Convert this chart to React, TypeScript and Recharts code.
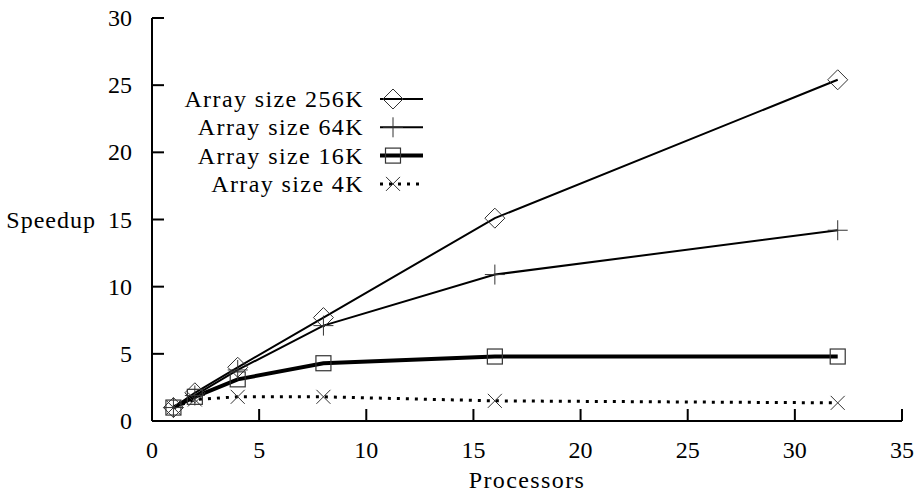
import React from "react";
import { LineChart, Line, XAxis, YAxis, Legend, Label } from "recharts";

const processors = [1, 2, 4, 8, 16, 32];
const speedup256K = [1.0, 2.1, 4.0, 7.7, 15.1, 25.4];
const speedup64K = [1.0, 1.9, 3.8, 7.1, 10.9, 14.2];
const speedup16K = [1.0, 1.8, 3.1, 4.3, 4.8, 4.8];
const speedup4K = [1.0, 1.6, 1.8, 1.8, 1.5, 1.35];

const xTicks = [0, 5, 10, 15, 20, 25, 30, 35];
const yTicks = [0, 5, 10, 15, 20, 25, 30];

const seriesNames = ["Array size 256K", "Array size 64K", "Array size 16K", "Array size 4K"];

const data = processors.map((p, i) => ({
  p,
  s256: speedup256K[i],
  s64: speedup64K[i],
  s16: speedup16K[i],
  s4: speedup4K[i],
}));

const FONT = "Liberation Serif";
const MARK = "#333";
const TICK = -12;

type Shape = "diamond" | "plus" | "square" | "cross";

function Marker({ shape, cx, cy }: { shape: Shape; cx: number; cy: number }) {
  if (shape === "diamond") {
    const r = 10;
    return (
      <path
        d={`M${cx - r},${cy} L${cx},${cy - r} L${cx + r},${cy} L${cx},${cy + r} Z`}
        fill="none"
        stroke={MARK}
        strokeWidth={1}
      />
    );
  }
  if (shape === "plus") {
    const r = 10;
    return <path d={`M${cx - r},${cy} H${cx + r} M${cx},${cy - r} V${cy + r}`} stroke={MARK} strokeWidth={1} />;
  }
  if (shape === "square") {
    const r = 7.5;
    return <rect x={cx - r} y={cy - r} width={2 * r} height={2 * r} fill="none" stroke={MARK} strokeWidth={1.2} />;
  }
  const r = 7;
  return (
    <path
      d={`M${cx - r},${cy - r} L${cx + r},${cy + r} M${cx - r},${cy + r} L${cx + r},${cy - r}`}
      stroke={MARK}
      strokeWidth={1}
    />
  );
}

const dotFor = (shape: Shape) => (props: any) =>
  (
    <g key={`${shape}-${props.index}`}>
      <Marker shape={shape} cx={props.cx} cy={props.cy} />
    </g>
  );

// tick lines point inward (negative tickSize); tick x/y arrive at the inner end of the tick
const BottomTick = ({ x, y, payload }: any) => (
  <text x={x} y={y + 12 + 37} textAnchor="middle" fill="#000" fontFamily={FONT} fontSize={24}>
    {payload.value}
  </text>
);

const LeftTick = ({ x, y, payload }: any) => (
  <text x={x - 12 - 20} y={y + 8} textAnchor="end" fill="#000" fontFamily={FONT} fontSize={24}>
    {payload.value}
  </text>
);

const legendRows: { shape: Shape; width: number; dash?: string }[] = [
  { shape: "diamond", width: 2 },
  { shape: "plus", width: 2 },
  { shape: "square", width: 4 },
  { shape: "cross", width: 3, dash: "3 6" },
];

const LegendBox = () => (
  <svg width={270} height={120} style={{ overflow: "visible", fontFamily: FONT }}>
    {legendRows.map((r, i) => {
      const y = 19 + i * 28.3;
      return (
        <g key={seriesNames[i]}>
          <text
            x={194}
            y={y + 8}
            textAnchor="end"
            fill="#000"
            fontFamily={FONT}
            fontSize={24}
            letterSpacing={1.4}
          >
            {seriesNames[i]}
          </text>
          <line x1={210} y1={y} x2={253} y2={y} stroke="#000" strokeWidth={r.width} strokeDasharray={r.dash} />
          <Marker shape={r.shape} cx={223} cy={y} />
        </g>
      );
    })}
  </svg>
);

const axisLine = { stroke: "#000", strokeWidth: 2 };
const tickLine = { stroke: "#000", strokeWidth: 2 };

export default function App() {
  return (
    <div style={{ position: "fixed", left: 0, top: 0, background: "#fff", fontFamily: FONT }}>
      <LineChart
        width={917}
        height={492}
        data={data}
        margin={{ top: 18, right: 15, bottom: 0, left: 0 }}
        style={{ fontFamily: FONT }}
      >
        <XAxis
          dataKey="p"
          type="number"
          domain={[0, 35]}
          ticks={xTicks}
          height={71}
          axisLine={axisLine}
          tickLine={tickLine}
          tickSize={TICK}
          tickMargin={0}
          tick={<BottomTick />}
          interval={0}
        >
          <Label
            content={({ viewBox }: any) => (
              <text
                x={viewBox.x + viewBox.width / 2}
                y={viewBox.y + 67}
                textAnchor="middle"
                fill="#000"
                fontFamily={FONT}
                fontSize={24}
                letterSpacing={1.4}
              >
                Processors
              </text>
            )}
          />
        </XAxis>
        <XAxis
          xAxisId="top"
          orientation="top"
          dataKey="p"
          type="number"
          domain={[0, 35]}
          ticks={xTicks}
          height={0}
          axisLine={axisLine}
          tickLine={tickLine}
          tickSize={TICK}
          tick={false}
          interval={0}
        />
        <YAxis
          type="number"
          domain={[0, 30]}
          ticks={yTicks}
          width={152}
          axisLine={axisLine}
          tickLine={tickLine}
          tickSize={TICK}
          tickMargin={0}
          tick={<LeftTick />}
          interval={0}
        >
          <Label
            content={({ viewBox }: any) => (
              <text
                x={96}
                y={viewBox.y + viewBox.height / 2 + 8}
                textAnchor="end"
                fill="#000"
                fontFamily={FONT}
                fontSize={24}
                letterSpacing={1}
              >
                Speedup
              </text>
            )}
          />
        </YAxis>
        <YAxis
          yAxisId="right"
          orientation="right"
          type="number"
          domain={[0, 30]}
          ticks={yTicks}
          width={0}
          axisLine={axisLine}
          tickLine={tickLine}
          tickSize={TICK}
          tick={false}
          interval={0}
        />
        <Legend
          layout="vertical"
          align="center"
          verticalAlign="middle"
          content={() => <LegendBox />}
          wrapperStyle={{ left: 170, top: 80, width: 270, height: 120 }}
        />
        <Line
          dataKey="s256"
          name={seriesNames[0]}
          type="linear"
          stroke="#000"
          strokeWidth={2}
          dot={dotFor("diamond")}
          isAnimationActive={false}
        />
        <Line
          dataKey="s64"
          name={seriesNames[1]}
          type="linear"
          stroke="#000"
          strokeWidth={2}
          dot={dotFor("plus")}
          isAnimationActive={false}
        />
        <Line
          dataKey="s16"
          name={seriesNames[2]}
          type="linear"
          stroke="#000"
          strokeWidth={4}
          dot={dotFor("square")}
          isAnimationActive={false}
        />
        <Line
          dataKey="s4"
          name={seriesNames[3]}
          type="linear"
          stroke="#000"
          strokeWidth={3}
          strokeDasharray="3 6"
          dot={dotFor("cross")}
          isAnimationActive={false}
        />
      </LineChart>
    </div>
  );
}
